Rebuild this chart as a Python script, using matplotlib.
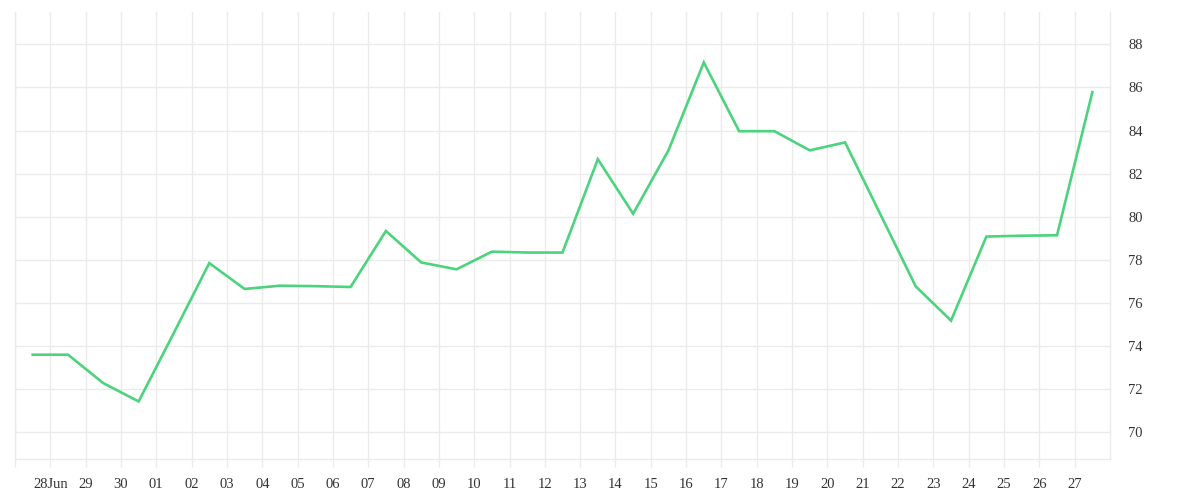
import pandas as pd
import numpy as np
import matplotlib
matplotlib.use('Agg')
import matplotlib.pyplot as plt
import matplotlib.dates as mdates

# daily values, 27 Jun .. 27 Jul (plotted at midday)
dates = pd.date_range('2020-06-27 12:00', periods=31, freq='D')
values = [73.60, 73.60, 72.28, 71.43, 74.62, 77.85, 76.65, 76.80, 76.78, 76.74,
          79.34, 77.88, 77.56, 78.38, 78.34, 78.34, 82.67, 80.14, 83.08, 87.16,
          83.97, 83.97, 83.08, 83.45, 80.11, 76.77, 75.18, 79.08, 79.12, 79.14,
          85.78]

tick_days = pd.date_range('2020-06-27', periods=31, freq='D')
tick_labels = ['', '28Jun', '29', '30', '01', '02', '03', '04', '05', '06', '07',
               '08', '09', '10', '11', '12', '13', '14', '15', '16', '17', '18',
               '19', '20', '21', '22', '23', '24', '25', '26', '27']
y_ticks = [70, 72, 74, 76, 78, 80, 82, 84, 86, 88]

grid_c = '#ebebeb'
text_c = '#333333'
plt.rcParams['font.family'] = ['Liberation Serif', 'DejaVu Serif']

fig = plt.figure(figsize=(12, 5), dpi=100)
ax = fig.add_axes([0.0125, 0.082, 0.9125, 0.894])

ax.plot(dates, values, color='#4cd37d', lw=1.9, solid_joinstyle='miter', zorder=3)

ax.set_xlim(pd.Timestamp('2020-06-27'), pd.Timestamp('2020-07-28'))
ax.set_ylim(68.76, 89.5)

ax.set_xticks(mdates.date2num(tick_days))
ax.set_xticklabels(tick_labels)
ax.set_yticks(y_ticks)
ax.yaxis.tick_right()

ax.grid(True, color=grid_c, lw=1.0, zorder=0)
ax.tick_params(axis='x', length=6, width=1, color=grid_c, labelsize=10.5,
               labelcolor=text_c, pad=8)
ax.tick_params(axis='y', length=0, labelsize=10.5, labelcolor=text_c, pad=13)

ax.spines['top'].set_visible(False)
for s in ['left', 'right', 'bottom']:
    ax.spines[s].set_color(grid_c)
    ax.spines[s].set_linewidth(1.0)

fig.savefig('out.png', dpi=100)
